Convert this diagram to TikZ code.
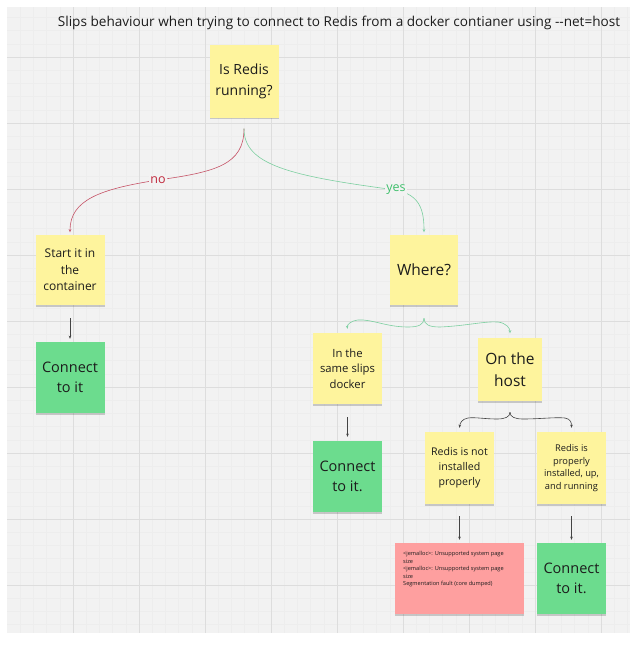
\documentclass[tikz,border=0pt]{standalone}
\usepackage{fontspec}
\setmainfont{Open Sans}
\usetikzlibrary{arrows.meta,shadows}
\definecolor{bgc}{HTML}{F2F2F2}
\definecolor{gridmajor}{HTML}{DDDDDD}
\definecolor{gridminor}{HTML}{EDEDED}
\definecolor{stickyyellow}{HTML}{FEF49D}
\definecolor{stickygreen}{HTML}{6CDC8E}
\definecolor{stickyred}{HTML}{FE9F9F}
\definecolor{notext}{HTML}{C0283C}
\definecolor{yestext}{HTML}{3FBF6C}
\definecolor{noline}{HTML}{C65468}
\definecolor{yesline}{HTML}{7CCFA0}
\definecolor{darkline}{HTML}{444444}
\definecolor{inktext}{HTML}{1C1C1C}
\begin{document}
\begin{tikzpicture}[x=1pt,y=-1pt,
  sticky/.style={fill=stickyyellow, draw=none, align=center, inner sep=0pt,
    text=inktext, drop shadow={shadow xshift=0pt, shadow yshift=-1.5pt, opacity=0.18, fill=black}},
  gsticky/.style={sticky, fill=stickygreen},
  rsticky/.style={sticky, fill=stickyred},
  tip/.style={-{Stealth[length=3.2pt,width=2.6pt]}},
  darrow/.style={tip, draw=darkline, line width=0.6pt},
  nocurve/.style={tip, draw=noline, line width=0.6pt},
  yescurve/.style={tip, draw=yesline, line width=0.6pt},
  brace/.style={tip, line width=0.6pt},
  lbl/.style={fill=bgc, inner sep=1.5pt, font=\fontsize{12.5}{14}\selectfont}
]
\useasboundingbox (0,0) rectangle (638,649);
\fill[white] (0,0) rectangle (638,649);
\fill[bgc] (7,7) rectangle (630,633);
\begin{scope}
  \clip (7,7) rectangle (630,633);
  \foreach \i in {1,...,47} \draw[gridminor, line width=0.3pt] ({7+13.2*\i},7) -- ({7+13.2*\i},633);
  \foreach \i in {1,...,48} \draw[gridminor, line width=0.3pt] (7,{-9+13.2*\i}) -- (630,{-9+13.2*\i});
  \foreach \i in {1,...,9} \draw[gridmajor, line width=0.6pt] ({7+66*\i},7) -- ({7+66*\i},633);
  \foreach \i in {0,...,8} \draw[gridmajor, line width=0.6pt] (7,{57+66*\i}) -- (630,{57+66*\i});
\end{scope}

\node[text=inktext, font=\fontsize{13.6}{16}\selectfont] (title) at (339,23) {Slips behaviour when trying to connect to Redis from a docker contianer using {-}{-}net=host};

\node[sticky, minimum width=69pt, minimum height=73pt, font=\fontsize{14}{21}\selectfont] (redis) at (244,81) {Is Redis\\running?};
\node[sticky, minimum width=69pt, minimum height=70pt, font=\fontsize{12}{16.5}\selectfont] (start) at (70,270) {Start it in\\the\\container};
\node[gsticky, minimum width=69pt, minimum height=71pt, font=\fontsize{14.5}{19.5}\selectfont] (connect1) at (70,377.5) {Connect\\to it};
\node[sticky, minimum width=68pt, minimum height=70pt, font=\fontsize{15.5}{20}\selectfont] (where) at (424,270) {Where?};
\node[sticky, minimum width=69pt, minimum height=71pt, font=\fontsize{11.3}{15.5}\selectfont] (same) at (347.5,368.5) {In the\\same slips\\docker};
\node[sticky, minimum width=64pt, minimum height=63pt, font=\fontsize{15.5}{22}\selectfont] (host) at (510,369.5) {On the\\host};
\node[gsticky, minimum width=69pt, minimum height=71pt, font=\fontsize{14.5}{19.5}\selectfont] (connect2) at (347.5,476.5) {Connect\\to it.};
\node[sticky, minimum width=69pt, minimum height=72pt, font=\fontsize{10.6}{14.8}\selectfont] (notinst) at (459.5,468) {Redis is not\\installed\\properly};
\node[sticky, minimum width=69pt, minimum height=72pt, font=\fontsize{9.3}{12.7}\selectfont] (proper) at (571.5,468) {Redis is\\properly\\installed, up,\\and running};
\node[rsticky, minimum width=129pt, minimum height=71pt] (fault) at (459.5,578.5) {};
\node[anchor=north west, align=left, inner sep=0pt, text=inktext, font=\fontsize{5.6}{7.6}\selectfont] (faulttext) at (403,551) {<jemalloc>: Unsupported system page\\size\\<jemalloc>: Unsupported system page\\size\\Segmentation fault (core dumped)};
\node[gsticky, minimum width=69pt, minimum height=71pt, font=\fontsize{14.5}{19.5}\selectfont] (connect3) at (571.5,578.5) {Connect\\to it.};

% no / yes curves
\draw[nocurve, shorten <=11pt, shorten >=2.5pt] (redis.south) .. controls (244,165) and (215,172) .. (158,180)
  node[lbl, text=notext] {no}
  .. controls (100,189) and (70,200) .. (start.north);
\draw[yescurve, shorten <=11pt, shorten >=2.5pt] (redis.south) .. controls (244,165) and (290,176) .. (396,190)
  node[lbl, text=yestext] {yes}
  .. controls (420,195) and (424,210) .. (where.north);

% green brace
\coordinate (wcusp) at ([yshift=-13pt]where.south);
\draw[brace, draw=yesline] (wcusp) .. controls (424,325) and (418,327) .. (408,327)
  .. controls (386,327) and (372,319) .. (358,320)
  .. controls (350,321) and (347,325) .. ([yshift=4pt]same.north);
\draw[brace, draw=yesline] (wcusp) .. controls (424,325) and (430,327) .. (440,327)
  .. controls (465,326) and (485,321) .. (498,322)
  .. controls (506,323) and (510,328) .. ([yshift=4.5pt]host.north);

% dark brace
\coordinate (hcusp) at ([yshift=-11pt]host.south);
\draw[brace, draw=darkline] (hcusp) .. controls (510,417) and (505,419) .. (497,419)
  .. controls (485,419) and (475,417) .. (468,418)
  .. controls (462,419) and (460,423) .. ([yshift=4pt]notinst.north);
\draw[brace, draw=darkline] (hcusp) .. controls (510,417) and (515,419) .. (523,419)
  .. controls (540,419) and (555,417) .. (565,418)
  .. controls (571,419) and (571.5,423) .. ([yshift=4pt]proper.north);

% straight arrows
\draw[darrow, shorten <=13pt, shorten >=3pt] (start.south) -- (connect1.north);
\draw[darrow, shorten <=13pt, shorten >=4pt] (same.south) -- (connect2.north);
\draw[darrow, shorten <=12pt, shorten >=3pt] (notinst.south) -- (fault.north);
\draw[darrow, shorten <=12pt, shorten >=3pt] (proper.south) -- (connect3.north);
\end{tikzpicture}
\end{document}
